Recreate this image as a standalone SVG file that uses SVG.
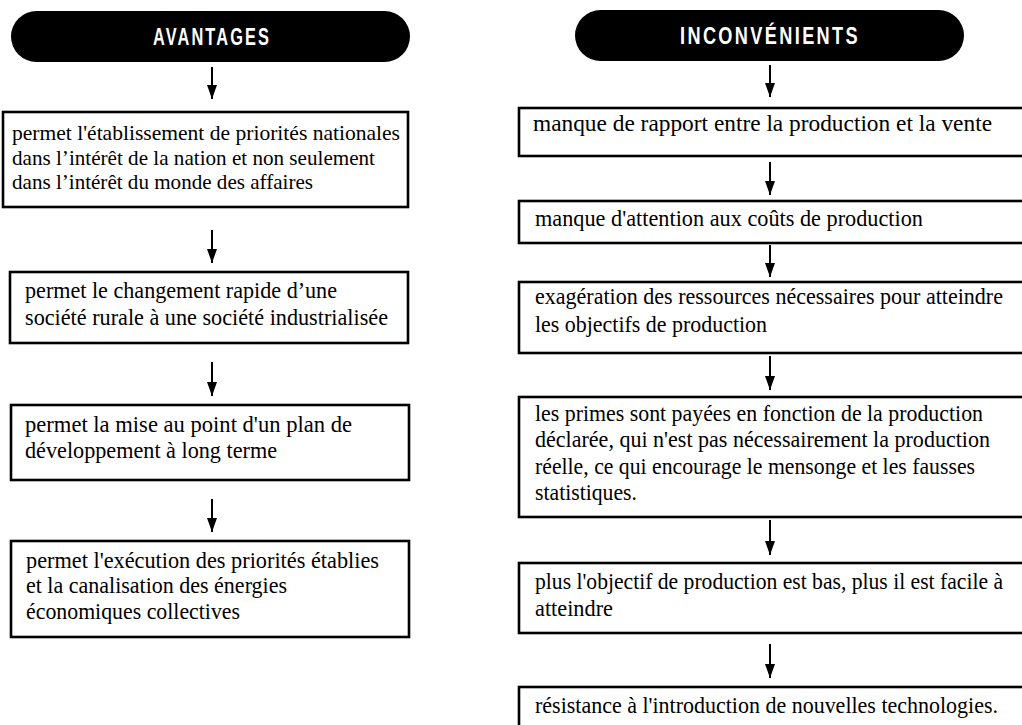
<svg xmlns="http://www.w3.org/2000/svg" width="1022" height="725" viewBox="0 0 1022 725">
<style>
.bg{fill:#ffffff}
.pill{fill:#000000}
.title{font-family:"Liberation Sans",Arial,sans-serif;font-weight:bold;font-size:23px;fill:#ffffff;letter-spacing:3px}
.box{fill:#ffffff;stroke:#000000;stroke-width:2.6}
.t{font-family:"Liberation Serif","Times New Roman",serif;font-size:23px;fill:#000000}
.t1{font-family:"Liberation Serif","Times New Roman",serif;font-size:22px;fill:#000000}
.conn{stroke:#000000;stroke-width:2;fill:none}
</style>
<defs>
<marker id="ah" viewBox="0 0 14 10" refX="14" refY="5" markerWidth="14" markerHeight="10" markerUnits="userSpaceOnUse" orient="auto">
<path d="M0,0 L14,5 L0,10 z" fill="#000000"/>
</marker>
</defs>
<rect class="bg" x="0" y="0" width="1022" height="725"/>

<g id="connectors">
<line class="conn" x1="212" y1="67" x2="212" y2="99" marker-end="url(#ah)"/>
<line class="conn" x1="212" y1="230" x2="212" y2="263" marker-end="url(#ah)"/>
<line class="conn" x1="212" y1="362" x2="212" y2="396" marker-end="url(#ah)"/>
<line class="conn" x1="212" y1="499" x2="212" y2="532" marker-end="url(#ah)"/>
<line class="conn" x1="770" y1="65" x2="770" y2="97" marker-end="url(#ah)"/>
<line class="conn" x1="770" y1="162" x2="770" y2="195" marker-end="url(#ah)"/>
<line class="conn" x1="770" y1="245" x2="770" y2="277" marker-end="url(#ah)"/>
<line class="conn" x1="770" y1="356" x2="770" y2="390" marker-end="url(#ah)"/>
<line class="conn" x1="770" y1="520" x2="770" y2="555" marker-end="url(#ah)"/>
<line class="conn" x1="770" y1="644" x2="770" y2="678" marker-end="url(#ah)"/>
</g>

<g id="avantages">
<rect class="pill" x="11" y="11" width="399" height="51" rx="25.5"/>
<text class="title" x="212" y="45" text-anchor="middle" textLength="118" lengthAdjust="spacingAndGlyphs">AVANTAGES</text>
</g>

<g id="a1">
<rect class="box" x="3" y="112" width="405" height="95"/>
<text class="t1" x="12" y="140" textLength="388" lengthAdjust="spacingAndGlyphs">permet l'établissement de priorités nationales</text>
<text class="t1" x="12" y="165" textLength="363" lengthAdjust="spacingAndGlyphs">dans l’intérêt de la nation et non seulement</text>
<text class="t1" x="12" y="189" textLength="301" lengthAdjust="spacingAndGlyphs">dans l’intérêt du monde des affaires</text>
</g>

<g id="a2">
<rect class="box" x="10" y="272" width="398" height="71"/>
<text class="t" x="25" y="298" textLength="312" lengthAdjust="spacingAndGlyphs">permet le changement rapide d’une</text>
<text class="t" x="25" y="325" textLength="363" lengthAdjust="spacingAndGlyphs">société rurale à une société industrialisée</text>
</g>

<g id="a3">
<rect class="box" x="11" y="405" width="398" height="75"/>
<text class="t" x="25" y="432" textLength="327" lengthAdjust="spacingAndGlyphs">permet la mise au point d'un plan de</text>
<text class="t" x="25" y="458" textLength="252" lengthAdjust="spacingAndGlyphs">développement à long terme</text>
</g>

<g id="a4">
<rect class="box" x="11" y="541" width="398" height="96"/>
<text class="t" x="26" y="568" textLength="353" lengthAdjust="spacingAndGlyphs">permet l'exécution des priorités établies</text>
<text class="t" x="26" y="593" textLength="261" lengthAdjust="spacingAndGlyphs">et la canalisation des énergies</text>
<text class="t" x="26" y="619" textLength="214" lengthAdjust="spacingAndGlyphs">économiques collectives</text>
</g>

<g id="inconvenients">
<rect class="pill" x="575" y="10" width="389" height="51" rx="25.5"/>
<text class="title" x="770" y="44" text-anchor="middle" textLength="180" lengthAdjust="spacingAndGlyphs">INCONVÉNIENTS</text>
</g>

<g id="i1">
<rect class="box" x="519" y="108" width="520" height="48"/>
<text class="t" x="533" y="131" textLength="459" lengthAdjust="spacingAndGlyphs">manque de rapport entre la production et la vente</text>
</g>

<g id="i2">
<rect class="box" x="519" y="201" width="520" height="42"/>
<text class="t" x="535" y="226" textLength="388" lengthAdjust="spacingAndGlyphs">manque d'attention aux coûts de production</text>
</g>

<g id="i3">
<rect class="box" x="519" y="282" width="520" height="71"/>
<text class="t" x="535" y="304" textLength="468" lengthAdjust="spacingAndGlyphs">exagération des ressources nécessaires pour atteindre</text>
<text class="t" x="535" y="332" textLength="232" lengthAdjust="spacingAndGlyphs">les objectifs de production</text>
</g>

<g id="i4">
<rect class="box" x="519" y="397" width="520" height="120"/>
<text class="t" x="535" y="421" textLength="448" lengthAdjust="spacingAndGlyphs">les primes sont payées en fonction de la production</text>
<text class="t" x="535" y="447" textLength="455" lengthAdjust="spacingAndGlyphs">déclarée, qui n'est pas nécessairement la production</text>
<text class="t" x="535" y="474" textLength="440" lengthAdjust="spacingAndGlyphs">réelle, ce qui encourage le mensonge et les fausses</text>
<text class="t" x="535" y="500" textLength="102" lengthAdjust="spacingAndGlyphs">statistiques.</text>
</g>

<g id="i5">
<rect class="box" x="519" y="563" width="520" height="70"/>
<text class="t" x="535" y="589" font-size="21.5" textLength="468" lengthAdjust="spacingAndGlyphs">plus l'objectif de production est bas, plus il est facile à</text>
<text class="t" x="535" y="616" textLength="78" lengthAdjust="spacingAndGlyphs">atteindre</text>
</g>

<g id="i6">
<rect class="box" x="519" y="687" width="520" height="60"/>
<text class="t" x="535" y="713" textLength="463" lengthAdjust="spacingAndGlyphs">résistance à l'introduction de nouvelles technologies.</text>
</g>
</svg>
